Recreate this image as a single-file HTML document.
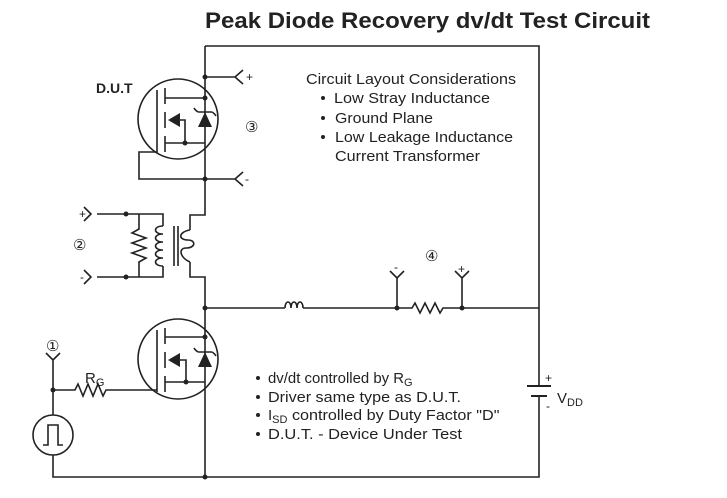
<!DOCTYPE html>
<html><head><style>
body{margin:0;background:#fff}
svg{display:block}
text{font-family:"Liberation Sans",Arial,sans-serif;fill:#222}
</style></head><body>
<svg width="727" height="498" viewBox="0 0 727 498" xmlns="http://www.w3.org/2000/svg">
<g stroke="#222" stroke-width="1.6" fill="none">
<path d="M205 46 H539 V380 M539 400 V477 H53 V455"/>
<path d="M205 46 V215 H190 V230 M190 262 V277 H205 V477"/>
<path d="M190 230 C178 232,178 240,188 240 C196 240,196 248,186 248 C178 248,180 258,190 262"/>
<path d="M174 226 V266 M178 226 V266"/>
<path d="M97 214 H163 V226 M163 266 V277 H97"/>
<path d="M163 226 c-10 0,-10 8,0 8 c-10 0,-10 8,0 8 c-10 0,-10 8,0 8 c-10 0,-10 8,0 8 c-10 0,-10 8,0 8"/>
<path d="M139 214 V229 l-7 4 l14 5 l-14 5 l14 5 l-14 5 l14 5 l-7 4 V277"/>
<path d="M84 207 L91 214 L84 221 M84 270 L91 277 L84 284"/>
<path d="M205 77 H235 M243 70 L235 77 L243 84 M205 179 H235 M243 172 L235 179 L243 186"/>
<circle cx="178" cy="119" r="40"/>
<path d="M157 90 V152 H139 V179 H205"/>
<path d="M165 88 V104 M165 112 V128 M165 136 V152"/>
<path d="M165 98 H205 M165 143 H205 M180 120 H185 V143"/>
<path d="M198 112 H212 M198 112 q-3 -2,-4 -4 M212 112 q3 2,4 4"/>
<circle cx="178" cy="359" r="40"/>
<path d="M157 330 V392 M53 390 H75 l3 -6 l5 12 l5 -12 l5 12 l5 -12 l5 12 l3 -6 H157"/>
<path d="M165 328 V344 M165 352 V368 M165 376 V392"/>
<path d="M165 337 H205 M165 382 H205 M180 360 H186 V382"/>
<path d="M198 352 H212 M198 352 q-3 -2,-4 -4 M212 352 q3 2,4 4"/>
<path d="M53 360 V415 M46 353 L53 360 L60 353"/>
<circle cx="53" cy="435" r="20"/>
<path d="M43 445 H48 V425 H58 V445 H63"/>
<path d="M205 308 H285 M285 308 c0 -8,6 -8,6 0 c0 -8,6 -8,6 0 c0 -8,6 -8,6 0 M303 308 H412 l3 -5 l5 10 l5 -10 l5 10 l5 -10 l5 10 l3 -5 H539"/>
<path d="M397 308 V278 M390 271 L397 278 L404 271 M462 308 V278 M455 271 L462 278 L469 271"/>
<path d="M527 386 H551 M531 396 H547" stroke-width="2"/>
<path d="M539 386 V380 M539 396 V400"/>
</g>
<g fill="#222">
<path d="M168 120 L180 113 L180 127 Z"/>
<path d="M205 112 L198 127 L212 127 Z"/>
<path d="M168 360 L180 353 L180 367 Z"/>
<path d="M205 352 L198 367 L212 367 Z"/>
<circle cx="205" cy="77" r="2.5"/><circle cx="205" cy="98" r="2.5"/><circle cx="185" cy="143" r="2.5"/>
<circle cx="205" cy="179" r="2.5"/><circle cx="126" cy="214" r="2.5"/><circle cx="126" cy="277" r="2.5"/>
<circle cx="205" cy="308" r="2.5"/><circle cx="205" cy="337" r="2.5"/><circle cx="186" cy="382" r="2.5"/>
<circle cx="53" cy="390" r="2.5"/><circle cx="205" cy="477" r="2.5"/>
<circle cx="397" cy="308" r="2.5"/><circle cx="462" cy="308" r="2.5"/>
<circle cx="323" cy="98" r="2"/><circle cx="323" cy="118" r="2"/><circle cx="323" cy="137" r="2"/>
<circle cx="258" cy="378" r="2"/><circle cx="258" cy="397" r="2"/><circle cx="258" cy="415" r="2"/><circle cx="258" cy="434" r="2"/>
</g>
<text x="205" y="28" font-size="22" font-weight="bold" textLength="445" lengthAdjust="spacingAndGlyphs">Peak Diode Recovery dv/dt Test Circuit</text>
<text x="96" y="93" font-size="14" font-weight="bold">D.U.T</text>
<g font-size="15">
<text x="306" y="84" textLength="210" lengthAdjust="spacingAndGlyphs">Circuit Layout Considerations</text>
<text x="334" y="103" textLength="156" lengthAdjust="spacingAndGlyphs">Low Stray Inductance</text>
<text x="335" y="123" textLength="98" lengthAdjust="spacingAndGlyphs">Ground Plane</text>
<text x="335" y="142" textLength="178" lengthAdjust="spacingAndGlyphs">Low Leakage Inductance</text>
<text x="335" y="161" textLength="145" lengthAdjust="spacingAndGlyphs">Current Transformer</text>
<text x="268" y="383"><tspan textLength="136" lengthAdjust="spacingAndGlyphs">dv/dt controlled by R</tspan><tspan font-size="11" dy="3">G</tspan></text>
<text x="268" y="402" textLength="193" lengthAdjust="spacingAndGlyphs">Driver same type as D.U.T.</text>
<text x="268" y="420">I<tspan font-size="11" dy="3">SD</tspan><tspan dy="-3" textLength="212" lengthAdjust="spacingAndGlyphs"> controlled by Duty Factor "D"</tspan></text>
<text x="268" y="439" textLength="194" lengthAdjust="spacingAndGlyphs">D.U.T. - Device Under Test</text>
<text x="85" y="383">R<tspan font-size="11" dy="3">G</tspan></text>
<text x="557" y="403">V<tspan font-size="11" dy="3">DD</tspan></text>
</g>
<g font-size="12">
<text x="246" y="81">+</text><text x="245" y="183">-</text>
<text x="79" y="218">+</text><text x="80" y="281">-</text>
<text x="394" y="271">-</text><text x="458" y="273">+</text>
<text x="545" y="382">+</text><text x="546" y="410">-</text>
</g>
<g font-size="15">
<text x="245" y="132">③</text><text x="73" y="250">②</text>
<text x="425" y="261">④</text><text x="46" y="351">①</text>
</g>
</svg>
</body></html>
